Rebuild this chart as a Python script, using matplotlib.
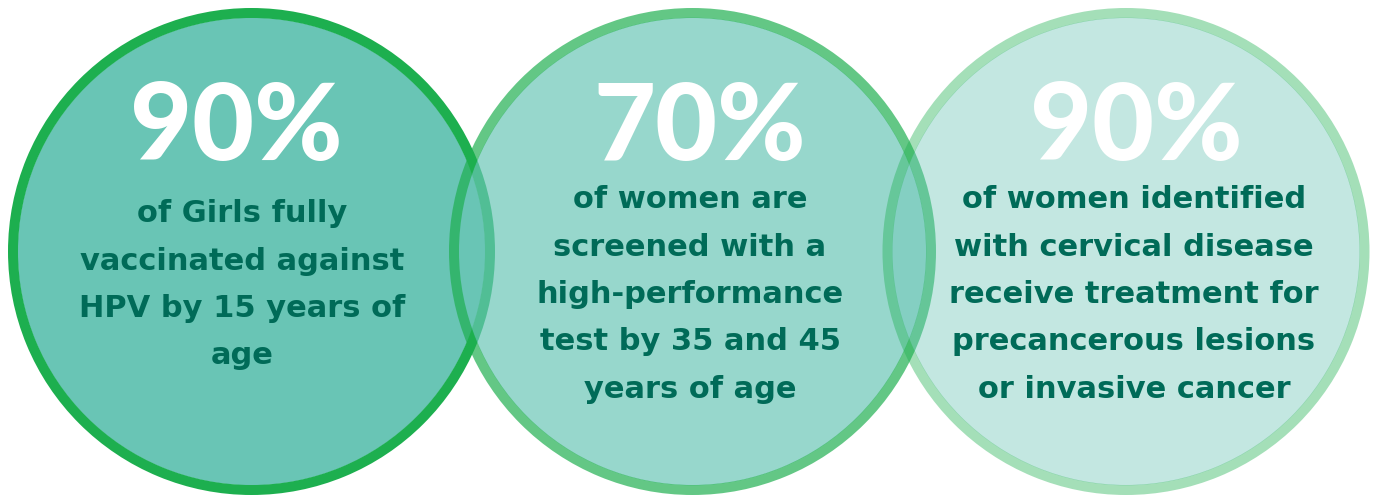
import matplotlib.pyplot as plt
from matplotlib.patches import Circle, Wedge
from matplotlib.font_manager import FontProperties

# three target circles (90-70-90 strategy)
percents = ['90%', '70%', '90%']
captions = [
    ['of Girls fully', 'vaccinated against', 'HPV by 15 years of', 'age'],
    ['of women are', 'screened with a', 'high-performance', 'test by 35 and 45', 'years of age'],
    ['of women identified', 'with cervical disease', 'receive treatment for',
     'precancerous lesions', 'or invasive cancer'],
]

centers_x = [251.5, 692.5, 1126]
center_y = 251.5
r_out = 243.5
ring = 10
pct_x = [236, 700, 1136]
text_x = [242, 690, 1134]
first_baseline = [222, 208, 208]
layer_alpha = [1.0, 0.69, 0.40]

fill_col = '#69c5b5'
edge_col = '#1daf4f'
text_col = '#006b58'

plt.rcParams['font.family'] = ['Lato', 'DejaVu Sans']
pct_font = FontProperties(family='Lato', weight='black', size=77)
cap_font = FontProperties(family='DejaVu Sans', weight='bold', size=22)

fig = plt.figure(figsize=(13.77, 4.95), dpi=100)
ax = fig.add_axes([0, 0, 1, 1])
ax.set_xlim(0, 1377)
ax.set_ylim(495, 0)
ax.set_aspect('equal')
ax.axis('off')

for i in range(3):
    cx = centers_x[i]
    # fill reaches a bit under the ring so no seam shows
    ax.add_patch(Circle((cx, center_y), r_out - ring + 0.4, facecolor=fill_col,
                        alpha=layer_alpha[i], edgecolor='none', zorder=1 + i))
    ax.add_patch(Wedge((cx, center_y), r_out, 0, 360, width=ring, facecolor=edge_col,
                       alpha=layer_alpha[i], edgecolor='none', zorder=1 + i))

for i in range(3):
    ax.text(pct_x[i], 160, percents[i], color='white', fontproperties=pct_font,
            ha='center', va='baseline', zorder=10)
    for j, line in enumerate(captions[i]):
        ax.text(text_x[i], first_baseline[i] + j * 47.5, line, color=text_col,
                fontproperties=cap_font, ha='center', va='baseline', zorder=10)

fig.savefig('out.png', dpi=100)
